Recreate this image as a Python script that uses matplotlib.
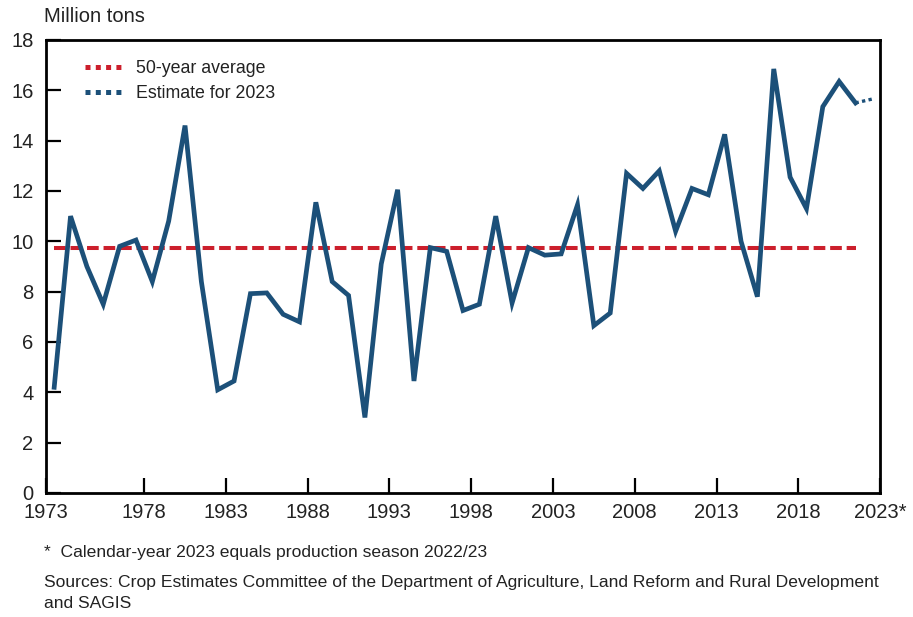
import numpy as np
import matplotlib.pyplot as plt
from matplotlib.lines import Line2D

plt.rcParams['font.family'] = ['Liberation Sans', 'DejaVu Sans']

# maize production, million tons (1973 .. 2022, then the 2023 estimate)
years = list(range(1973, 2024))
production = [4.2, 11.0, 9.0, 7.5, 9.8, 10.05, 8.4, 10.8, 14.6, 8.4,
              4.1, 4.45, 7.92, 7.95, 7.1, 6.8, 11.55, 8.4, 7.85, 3.0,
              9.1, 12.05, 4.45, 9.75, 9.6, 7.25, 7.5, 11.0, 7.55, 9.75,
              9.45, 9.5, 11.45, 6.65, 7.15, 12.7, 12.1, 12.8, 10.4, 12.1,
              11.85, 14.25, 10.0, 7.8, 16.85, 12.55, 11.3, 15.35, 16.35, 15.5]
estimate_2023 = 15.65
avg_50yr = 9.73

tick_labels = ['1973', '1978', '1983', '1988', '1993', '1998',
               '2003', '2008', '2013', '2018', '2023*']

blue = '#1c5079'
red = '#cc1f2c'
txt = '#222222'

fig = plt.figure(figsize=(9.13, 6.17), dpi=100)
ax = fig.add_axes([0.0504, 0.201, 0.9135, 0.7342])

# categories indexed 0..50, ticks sit on the boundaries between categories
idx = np.arange(len(production))
ax.plot(idx, [avg_50yr] * len(idx), color=red, lw=2.9, dashes=(2.9, 1.2),
        solid_capstyle='butt', dash_capstyle='butt', zorder=2)
ax.plot(idx, production, color=blue, lw=3.4, solid_joinstyle='miter', zorder=3)
ax.plot([idx[-1], idx[-1] + 1], [production[-1], estimate_2023], color=blue,
        lw=2.4, dashes=(1.0, 1.0), zorder=3)

ax.set_xlim(-0.5, len(years) - 0.5)
ax.set_ylim(0, 18)
ax.set_yticks(np.arange(0, 19, 2))
ax.set_xticks([-0.5] + list(np.arange(5.5, len(years), 5)))
ax.set_xticklabels(tick_labels)

ax.tick_params(axis='both', direction='in', length=11, width=1.6,
               colors='black', labelcolor=txt, labelsize=14.5)
ax.tick_params(axis='y', pad=9)
ax.tick_params(axis='x', pad=7)
for s in ax.spines.values():
    s.set_linewidth(2.0)

# legend samples: four square dots each
handles = [Line2D([], [], color=red, lw=3.6, dashes=(1.0, 1.06), dash_capstyle='butt'),
           Line2D([], [], color=blue, lw=3.6, dashes=(1.0, 1.06), dash_capstyle='butt')]
ax.legend(handles, ['50-year average', 'Estimate for 2023'], loc='upper left',
          bbox_to_anchor=(0.047, 0.955), frameon=False, fontsize=12.8,
          handlelength=2.02, handletextpad=0.85, labelspacing=0.45,
          borderpad=0, borderaxespad=0, labelcolor=txt)

fig.text(44 / 913, 1 - 16 / 617, 'Million tons', fontsize=14.5, color=txt,
         ha='left', va='center')
fig.text(44 / 913, 1 - 552 / 617, '*  Calendar-year 2023 equals production season 2022/23',
         fontsize=12.6, color=txt, ha='left', va='center')
fig.text(44 / 913, 1 - 582 / 617,
         'Sources: Crop Estimates Committee of the Department of Agriculture, '
         'Land Reform and Rural Development', fontsize=12.6, color=txt,
         ha='left', va='center')
fig.text(44 / 913, 1 - 604 / 617, 'and SAGIS', fontsize=12.6, color=txt,
         ha='left', va='center')

fig.savefig('out.png', dpi=100)
